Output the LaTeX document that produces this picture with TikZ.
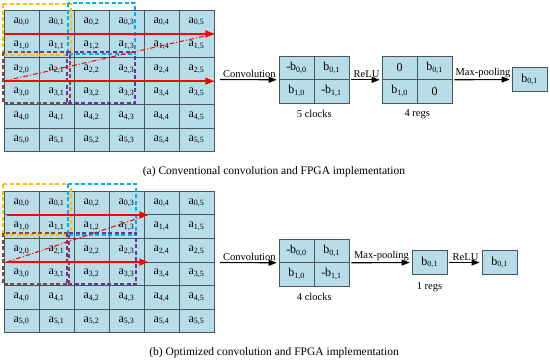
\documentclass[tikz,border=0pt]{standalone}
\usepackage{fontspec}
\setmainfont{Liberation Serif}
\usetikzlibrary{arrows.meta}
\definecolor{cellfill}{HTML}{B7DDE8}
\definecolor{gridline}{HTML}{46575D}
\definecolor{boxyellow}{HTML}{FFC000}
\definecolor{boxblue}{HTML}{00B0F0}
\definecolor{boxbrown}{HTML}{8B4540}
\definecolor{boxpurple}{HTML}{7030A0}
\definecolor{arrowred}{HTML}{FF0000}
\newcommand{\cellsub}[2]{#1\textsubscript{#2}}
\tikzset{
  cell/.style={draw=gridline, fill=cellfill, minimum width=35pt, minimum height=23.6pt,
    inner sep=0pt, line width=0.6pt, font=\fontsize{12}{13}\selectfont},
  rcell/.style={cell, minimum height=23.5pt},
  win/.style={line width=1.1pt, dash pattern=on 4pt off 2.5pt},
  flow/.style={-{Triangle[length=8pt,width=6pt]}, line width=1.1pt, shorten >=2pt},
  redarrow/.style={arrowred, line width=1.6pt, -{Triangle[length=9pt,width=7pt]}},
  reddash/.style={arrowred, line width=1pt, dash pattern=on 5pt off 2pt on 1pt off 2pt},
  lbl/.style={font=\fontsize{10.5}{12}\selectfont, inner sep=1.5pt},
  capt/.style={font=\fontsize{11.5}{13}\selectfont, inner sep=0pt}
}
\begin{document}
\begin{tikzpicture}[x=1pt,y=-1pt]
\useasboundingbox (0,0) rectangle (550,364);
\fill[white] (0,0) rectangle (550,364);

% ---------- (a) grid ----------
\foreach \i in {0,...,5}{
  \foreach \j in {0,...,5}{
    \node[cell] (A-\i-\j) at ({21.5+35*\j},{21.8+23.6*\i}) {\cellsub{a}{\i,\j}};
  }
}
\draw[win, boxyellow] (3,4) rectangle (71,55);
\draw[win, boxblue] (68,3) rectangle (135,54);
\draw[win, boxbrown] (3,52) rectangle (70,103);
\draw[win, boxpurple] (67,52) rectangle (135,103);
\draw[redarrow] (A-0-0.south west) -- (A-0-5.south east);
\draw[redarrow] (A-2-0.south west) -- (A-2-5.south east);
\draw[reddash] (A-2-0.south west) -- (A-0-5.south east);

% ---------- (a) pipeline ----------
\node[rcell] (C1-00) at (296.5,67.75) {-\cellsub{b}{0,0}};
\node[rcell] (C1-01) at (331.5,67.75) {\cellsub{b}{0,1}};
\node[rcell] (C1-10) at (296.5,91.25) {\cellsub{b}{1,0}};
\node[rcell] (C1-11) at (331.5,91.25) {-\cellsub{b}{1,1}};
\node[rcell] (C2-00) at (399.5,67.75) {0};
\node[rcell] (C2-01) at (434.5,67.75) {\cellsub{b}{0,1}};
\node[rcell] (C2-10) at (399.5,91.25) {\cellsub{b}{1,0}};
\node[rcell] (C2-11) at (434.5,91.25) {0};
\node[rcell] (C3) at (529.5,79.5) {\cellsub{b}{0,1}};
\coordinate (convA) at (220,79.5);
\draw[flow] (convA) -- node[lbl, above] {Convolution} (C1-00.south west);
\draw[flow] ([xshift=2pt]C1-01.south east) -- node[lbl, above] {ReLU} (C2-00.south west);
\draw[flow] ([xshift=2pt]C2-01.south east) -- node[lbl, above] {Max-pooling} (C3.west);
\node[lbl, below=5pt] (clkA) at (C1-10.south east) {5 clocks};
\node[lbl, below=5pt] (regA) at (C2-10.south east) {4 regs};
\node[capt] (captA) at (274,172) {(a) Conventional convolution and FPGA implementation};

% ---------- (b) grid ----------
\foreach \i in {0,...,5}{
  \foreach \j in {0,...,5}{
    \node[cell] (B-\i-\j) at ({21.5+35*\j},{202.8+23.6*\i}) {\cellsub{a}{\i,\j}};
  }
}
\draw[win, boxyellow] (3,184) rectangle (71,235);
\draw[win, boxblue] (68,184) rectangle (136,235);
\draw[win, boxbrown] (3,233) rectangle (69,284);
\draw[win, boxpurple] (67,233) rectangle (136,284);
\draw[redarrow] ([xshift=3pt]B-0-0.south west) -- ([xshift=4pt]B-0-3.south east);
\draw[redarrow] ([xshift=3pt]B-2-0.south west) -- ([xshift=4pt]B-2-3.south east);
\draw[reddash] ([xshift=3pt]B-2-0.south west) -- ([xshift=4pt]B-0-3.south east);

% ---------- (b) pipeline ----------
\node[rcell] (E1-00) at (296.5,250.75) {-\cellsub{b}{0,0}};
\node[rcell] (E1-01) at (331.5,250.75) {\cellsub{b}{0,1}};
\node[rcell] (E1-10) at (296.5,274.25) {\cellsub{b}{1,0}};
\node[rcell] (E1-11) at (331.5,274.25) {-\cellsub{b}{1,1}};
\node[rcell] (E2) at (429.5,262.5) {\cellsub{b}{0,1}};
\node[rcell] (E3) at (499.5,262.5) {\cellsub{b}{0,1}};
\coordinate (convB) at (220,262.5);
\draw[flow] (convB) -- node[lbl, above] {Convolution} (E1-00.south west);
\draw[flow] ([xshift=2pt]E1-01.south east) -- node[lbl, above] {Max-pooling} (E2.west);
\draw[flow] ([xshift=2pt]E2.east) -- node[lbl, above] {ReLU} (E3.west);
\node[lbl, below=5pt] (clkB) at (E1-10.south east) {4 clocks};
\node[lbl, below=6pt] (regB) at (E2.south) {1 regs};
\node[capt] (captB) at (274,353) {(b) Optimized convolution and FPGA implementation};
\end{tikzpicture}
\end{document}
